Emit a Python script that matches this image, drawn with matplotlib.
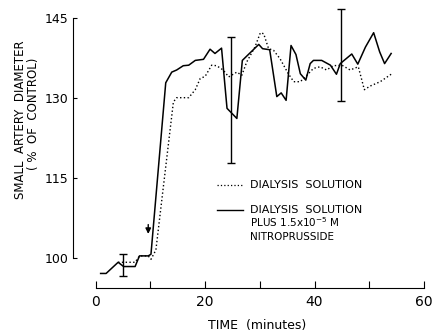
import matplotlib
matplotlib.use('Agg')
import matplotlib.pyplot as plt
from matplotlib.lines import Line2D

# Solid line: dialysis solution plus nitroprusside
nitro_t = [0.9, 1.9, 4.1, 5.1, 7.2, 8.0, 9.6, 10.1, 12.8, 13.9, 14.8, 16.0, 17.0, 18.2, 19.7,
           20.9, 21.8, 23.0, 24.0, 25.8, 26.8, 29.8, 30.5, 31.8, 33.1, 33.9, 34.8, 35.7, 36.6,
           37.4, 38.4, 39.2, 39.8, 41.3, 42.9, 44.0, 44.7, 46.8, 47.9, 49.3, 50.8, 51.9, 52.8, 54.0]
nitro_y = [97.1, 97.1, 99.2, 98.4, 98.4, 100.4, 100.4, 100.7, 132.9, 134.9, 135.3, 136.1, 136.2, 137.1, 137.3,
           139.2, 138.4, 139.4, 128.1, 126.2, 137.1, 140.1, 139.3, 139.1, 130.3, 131.0, 129.6, 139.9, 138.2,
           134.6, 133.4, 136.5, 137.1, 137.1, 136.2, 134.5, 136.5, 138.3, 136.4, 139.6, 142.3, 138.7, 136.5, 138.4]

# Dotted line: dialysis solution only
dial_t = [4.1, 5.1, 7.2, 8.0, 9.6, 10.1, 11.0, 14.2, 14.8, 17.0, 18.2, 19.1, 20.0, 21.2, 22.1, 23.3,
          24.3, 25.8, 26.7, 27.6, 29.1, 30.1, 30.7, 31.6, 32.5, 33.7, 35.2, 36.2, 37.4, 38.6, 39.8,
          41.0, 42.2, 43.4, 45.0, 46.5, 48.0, 49.1, 50.2, 52.0, 54.0]
dial_y = [99.2, 99.2, 99.2, 100.4, 100.4, 99.75, 101.5, 129.3, 130.1, 130.1, 131.6, 133.7, 134.1, 136.2, 136.1, 135.3,
          134.0, 134.9, 134.3, 136.8, 139.6, 142.3, 142.1, 139.3, 139.0, 137.4, 134.6, 133.1, 133.1, 134.3, 135.6,
          135.9, 135.3, 136.1, 136.2, 135.3, 135.9, 131.6, 132.3, 133.1, 134.5]

# Error bars (time, low, high)
err_t = [5.0, 24.7, 44.9]
err_lo = [96.6, 117.9, 129.4]
err_hi = [100.7, 141.5, 146.8]

fig = plt.figure(figsize=(4.34, 3.35), dpi=100)
ax = fig.add_axes([73 / 434, 47 / 335, 357 / 434, 283 / 335])
ax.set_xlim(-4.15, 61.1)
ax.set_ylim(94.37, 147.5)

ax.plot(nitro_t, nitro_y, color='black', lw=1.1)
ax.plot(dial_t, dial_y, color='black', lw=1.0, linestyle=(0, (1, 1.7)))

for t, lo, hi in zip(err_t, err_lo, err_hi):
    mid = (lo + hi) / 2
    ax.errorbar([t], [mid], yerr=[[mid - lo], [hi - mid]], fmt='none', ecolor='black',
                elinewidth=1.0, capsize=3, capthick=1.0)

# arrow marking start of superfusion
ax.annotate('', xy=(9.6, 104.0), xytext=(9.6, 106.8),
            arrowprops=dict(arrowstyle='-|>', color='black', lw=1.0, mutation_scale=8))

for s in ['top', 'right']:
    ax.spines[s].set_visible(False)
ax.spines['left'].set_bounds(100, 145)
ax.spines['bottom'].set_bounds(0, 60)
ax.set_yticks([100, 115, 130, 145])
ax.set_yticklabels(['100', '115', '130', '145'], fontsize=9)
ax.set_xticks([0, 10, 20, 30, 40, 50, 60])
ax.set_xticklabels(['0', '', '20', '', '40', '', '60'], fontsize=10)
ax.tick_params(axis='y', direction='in', length=3, pad=3)
ax.tick_params(axis='x', direction='in', length=5, pad=5)

# legend drawn by hand so the handle sits on the first text line
ax.add_line(Line2D([0.403, 0.476], [0.363, 0.363], transform=ax.transAxes, color='black',
                   lw=0.9, linestyle=(0, (1, 1.7))))
ax.text(0.496, 0.363, 'DIALYSIS  SOLUTION', transform=ax.transAxes, fontsize=8, va='center')
ax.add_line(Line2D([0.403, 0.476], [0.276, 0.276], transform=ax.transAxes, color='black', lw=1.0))
ax.text(0.496, 0.276, 'DIALYSIS  SOLUTION', transform=ax.transAxes, fontsize=8, va='center')
ax.text(0.496, 0.233, 'PLUS 1.5x10$^{-5}$ M', transform=ax.transAxes, fontsize=7.5, va='center')
ax.text(0.496, 0.181, 'NITROPRUSSIDE', transform=ax.transAxes, fontsize=7.5, va='center')

fig.text(257 / 434, 1 - 325 / 335, 'TIME  (minutes)', ha='center', va='center', fontsize=9)
fig.text(21 / 434, 1 - 120 / 335, 'SMALL  ARTERY  DIAMETER', rotation=90, ha='center', va='center', fontsize=8.5)
fig.text(34 / 434, 1 - 114 / 335, '( %  OF  CONTROL)', rotation=90, ha='center', va='center', fontsize=8.5)

fig.savefig('out.png', dpi=100)
